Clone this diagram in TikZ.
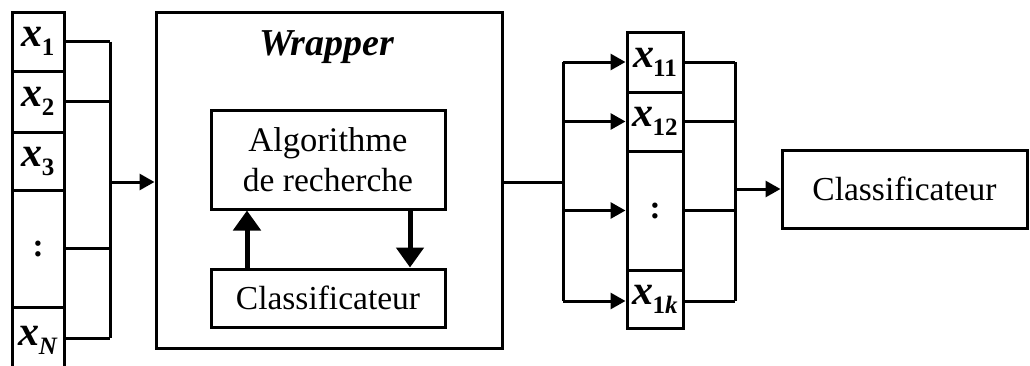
\documentclass[tikz,border=0pt]{standalone}
\usepackage{fontspec}
\setmainfont{Liberation Serif}
\usetikzlibrary{arrows.meta}
\newcommand{\xvar}[1]{{\fontsize{42}{44}\selectfont\bfseries\itshape x}\kern-1pt%
  \raisebox{-9pt}{\fontsize{25}{25}\selectfont\bfseries #1}}
\tikzset{
  cell/.style={draw,line width=3pt,minimum width=52pt,inner sep=0pt},
  box/.style={draw,line width=3pt,inner sep=0pt,align=center,
    font=\fontsize{33.5}{40}\selectfont},
  link/.style={line width=3pt},
  tip/.style={link,-{Triangle[length=15pt,width=16pt]}},
  bigtip/.style={line width=5pt,-{Triangle[length=20pt,width=27pt]}}
}
\begin{document}
\begin{tikzpicture}[x=1pt,y=-1pt]
\useasboundingbox (0,0) rectangle (1030,365);
% entree
\node[cell,minimum height=59pt] (x1) at (38,41.5) {\xvar{1}};
\node[cell,minimum height=61pt] (x2) at (38,101.5) {\xvar{2}};
\node[cell,minimum height=58pt] (x3) at (38,161) {\xvar{3}};
\node[cell,minimum height=117pt] (xd) at (38,248.5) {\fontsize{33}{38}\selectfont\bfseries :};
\node[cell,minimum height=66pt] (xN) at (38,340) {\xvar{\itshape N}};
\coordinate (jL) at (110,182);
\draw[link] (x1.east)--(x1.east-|jL);
\draw[link] (x2.east)--(x2.east-|jL);
\draw[link] (xd.east)--(xd.east-|jL);
\draw[link] ([yshift=2pt]xN.east)--([yshift=2pt]xN.east-|jL);
\draw[link] (x1.east-|jL)--([yshift=2pt]xN.east-|jL);

% wrapper
\node[box,minimum width=346pt,minimum height=336pt] (wrap) at (329,180) {};
\node[font=\fontsize{38}{42}\selectfont\bfseries\itshape] (wlab) at (327,47) {Wrapper};
\node[box,minimum width=234pt,minimum height=99pt] (algo) at (328,159.5)
  {\fontsize{34.5}{40}\selectfont Algorithme\\de recherche};
\node[box,minimum width=234pt,minimum height=58pt] (clsin) at (328,298) {Classificateur};
\draw[bigtip] (clsin.north-|247,0)--(algo.south-|247,0);
\draw[bigtip] (algo.south-|410,0)--(clsin.north-|410,0);
\draw[tip] (jL)--(jL-|wrap.west);

% sous-ensemble
\node[cell,minimum width=56pt,minimum height=60pt] (s1) at (655,62) {\xvar{11}};
\node[cell,minimum width=56pt,minimum height=59pt] (s2) at (655,121.5) {\xvar{12}};
\node[cell,minimum width=56pt,minimum height=119pt] (sd) at (655,210.5) {\fontsize{33}{38}\selectfont\bfseries :};
\node[cell,minimum width=56pt,minimum height=58pt] (sk) at (655,299) {\xvar{1\itshape k}};
\coordinate (jM) at (563,182);
\draw[link] (wrap.east|-jM)--(jM);
\draw[link] (s1.west-|jM)--([yshift=-2pt]sk.west-|jM);
\foreach \c in {s1,s2,sd} \draw[tip] (\c.west-|jM)--(\c.west);
\draw[tip] ([yshift=-2pt]sk.west-|jM)--([yshift=-2pt]sk.west);

% classificateur final
\node[box,minimum width=245pt,minimum height=78pt] (cls) at (904.5,189) {Classificateur};
\coordinate (jR) at (735,189);
\foreach \c in {s1,s2,sd} \draw[link] (\c.east)--(\c.east-|jR);
\draw[link] ([yshift=-2pt]sk.east)--([yshift=-2pt]sk.east-|jR);
\draw[link] (s1.east-|jR)--([yshift=-2pt]sk.east-|jR);
\draw[tip] (jR)--(cls.west);
\end{tikzpicture}
\end{document}
